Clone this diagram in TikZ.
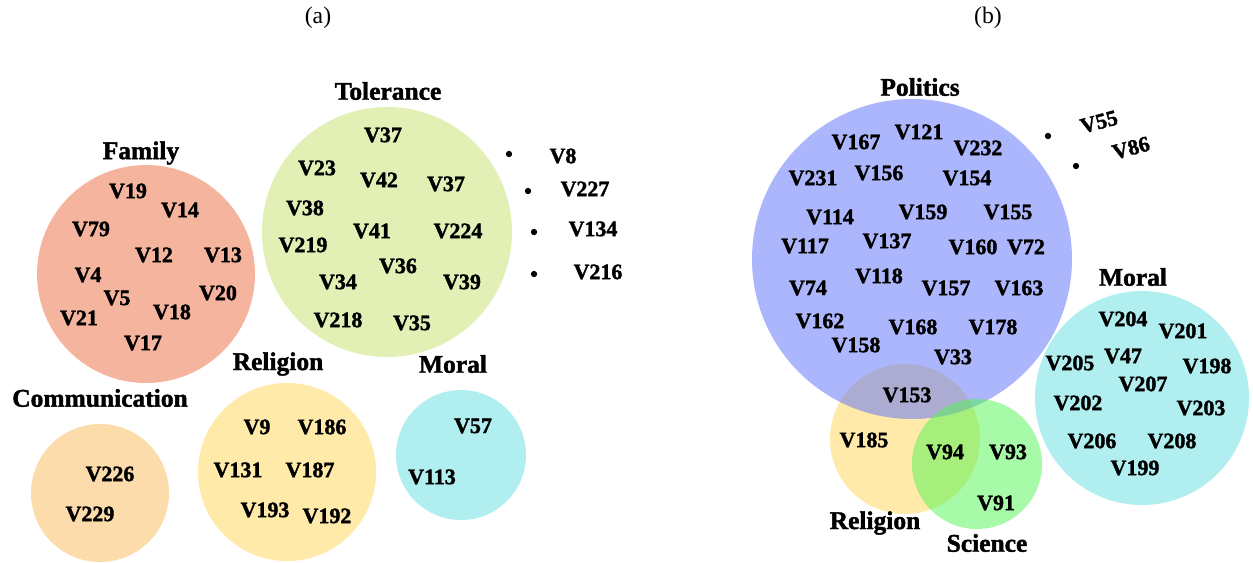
\documentclass[tikz,border=0pt]{standalone}
\usepackage{fontspec}
\setmainfont{Liberation Serif}
\newfontfamily\heavyfont[BoldFont={Liberation Serif Bold},BoldFeatures={FakeBold=1.6}]{Liberation Serif}
\usetikzlibrary{positioning}
\definecolor{famc}{RGB}{245,180,158}
\definecolor{tolc}{RGB}{226,240,182}
\definecolor{comc}{RGB}{252,220,170}
\definecolor{relc}{RGB}{255,234,170}
\definecolor{morc}{RGB}{176,238,240}
\definecolor{polc}{RGB}{90,110,250}
\definecolor{scic}{RGB}{80,245,80}
\tikzset{
  var/.style={font=\heavyfont\bfseries\fontsize{12.5}{14}\selectfont,inner sep=0pt},
  grp/.style={font=\heavyfont\bfseries\fontsize{14.5}{16}\selectfont,inner sep=0pt},
  capt/.style={font=\fontsize{13.5}{15}\selectfont,inner sep=0pt},
  pont/.style={circle,fill,inner sep=0pt,minimum size=3.6pt},
}

\begin{document}
\begin{tikzpicture}[x=0.02cm,y=-0.02cm]
  \useasboundingbox (0,0) rectangle (1253,562);
  % panel (a)
  \node[capt] (capa) at (318,18) {(a)};
  \fill[famc] (146,274) circle[radius=109];
  \fill[tolc] (387,232) circle[radius=125];
  \fill[comc] (100,493) circle[radius=69];
  \fill[relc] (287,472) circle[radius=89];
  \fill[morc] (461,455) circle[radius=65];
  \node[grp] (family) at (141,153) {Family};
  \node[grp] (tolerance) at (388,91) {Tolerance};
  \node[grp] (communication) at (100,398) {Communication};
  \node[grp] (religiona) at (278,364) {Religion};
  \node[grp] (morala) at (453,364) {Moral};
  % Family
  \foreach \x/\y/\t in {128/191/V19,180/210/V14,91/229/V79,154/255/V12,223/255/V13,
    88/275/V4,218/293/V20,117/298/V5,79/318/V21,172/312/V18,143/343/V17}
    \node[var] at (\x,\y) {\t};
  % Tolerance
  \foreach \x/\y/\t in {383/135/V37,317/168/V23,379/180/V42,446/184/V37,305/208/V38,
    372/231/V41,458/231/V224,303/245/V219,398/266/V36,338/282/V34,462/282/V39,
    338/320/V218,412/323/V35}
    \node[var] at (\x,\y) {\t};
  % outside Tolerance
  \foreach \x/\y/\lx/\ly/\t in {509/154/563/156/V8,528/191/585/189/V227,
    534/232/593/229/V134,534/274/598/272/V216}{
    \node[pont] at (\x,\y) {};
    \node[var] at (\lx,\ly) {\t};
  }
  % Communication, Religion, Moral
  \foreach \x/\y/\t in {110/474/V226,90/514/V229,257/427/V9,322/427/V186,238/470/V131,
    310/470/V187,265/510/V193,327/516/V192,473/426/V57,432/477/V113}
    \node[var] at (\x,\y) {\t};

  % panel (b)
  \node[capt] (capb) at (988,18) {(b)};
  \fill[relc] (905,439) circle[radius=75];
  \fill[polc,fill opacity=0.5] (912,259) circle[radius=160];
  \fill[scic,fill opacity=0.5] (977,464) circle[radius=65];
  \fill[morc] (1142,398) circle[radius=107];
  \node[grp] (politics) at (920,87) {Politics};
  \node[grp] (moralb) at (1133,277) {Moral};
  \node[grp] (religionb) at (875,523) {Religion};
  \node[grp] (science) at (987,543) {Science};
  % Politics
  \foreach \x/\y/\t in {856/142/V167,919/132/V121,978/148/V232,813/178/V231,879/173/V156,
    967/178/V154,830/217/V114,923/212/V159,1008/212/V155,805/246/V117,887/241/V137,
    973/247/V160,1026/247/V72,808/288/V74,879/276/V118,946/288/V157,1019/288/V163,
    820/321/V162,913/327/V168,993/327/V178,856/345/V158,953/357/V33,907/395/V153}
    \node[var] at (\x,\y) {\t};
  % Religion, Science
  \foreach \x/\y/\t in {864/440/V185,945/452/V94,1008/452/V93,996/503/V91}
    \node[var] at (\x,\y) {\t};
  % Moral
  \foreach \x/\y/\t in {1123/319/V204,1183/331/V201,1070/363/V205,1123/356/V47,
    1207/366/V198,1143/384/V207,1078/403/V202,1201/408/V203,1092/441/V206,
    1172/441/V208,1135/468/V199}
    \node[var] at (\x,\y) {\t};
  % outside Politics
  \node[pont] (p55) at (1048,136) {};
  \node[pont] (p86) at (1076,166) {};
  \node[var,rotate=15] (v55) at (1099,122) {V55};
  \node[var,rotate=15] (v86) at (1131,148) {V86};
\end{tikzpicture}
\end{document}
